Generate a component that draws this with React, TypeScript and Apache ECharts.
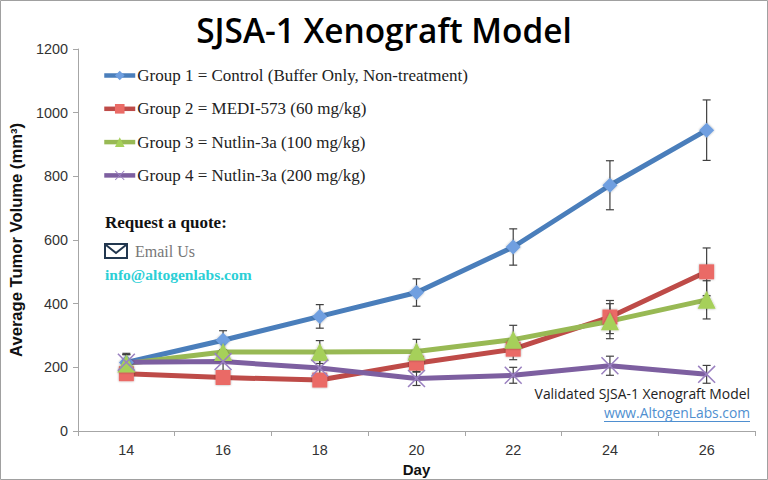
import React, { useEffect, useRef } from "react";
import * as echarts from "echarts";

const days = ["14", "16", "18", "20", "22", "24", "26"];
const names = [
  "Group 1 = Control (Buffer Only, Non-treatment)",
  "Group 2 = MEDI-573 (60 mg/kg)",
  "Group 3 = Nutlin-3a (100 mg/kg)",
  "Group 4 = Nutlin-3a (200 mg/kg)",
];
const group1 = [215, 285, 360, 435, 578, 772, 945];
const group2 = [180, 168, 160, 213, 257, 358, 500];
const group3 = [212, 248, 248, 250, 287, 345, 412];
const group4 = [216, 218, 198, 165, 175, 205, 178];
const err1 = [25, 30, 37, 43, 57, 77, 95];
const err2 = [18, 18, 18, 28, 33, 52, 75];
const err3 = [28, 32, 36, 38, 45, 55, 60];
const err4 = [28, 30, 30, 22, 25, 30, 28];
const lineColors = ["#4a7ebb", "#be4b48", "#98b954", "#7d5fa0"];
const fillColors = ["#6f9fe0", "#ea6b66", "#a6d05a", "#9a80c0"];
const xMark = "path://M0.6 0 L5 4.4 L9.4 0 L10 0.6 L5.6 5 L10 9.4 L9.4 10 L5 5.6 L0.6 10 L0 9.4 L4.4 5 L0 0.6 Z";
const symbols = ["diamond", "rect", "triangle", xMark];
const symbolSizes = [15, 15, 18, 18];
const values = [group1, group2, group3, group4];
const errors = [err1, err2, err3, err4];

export default function App() {
  const ref = useRef<HTMLDivElement>(null);
  useEffect(() => {
    const chart = echarts.init(ref.current!, undefined, { renderer: "svg" });
    const lines = names.map((name, i) => ({
      name,
      type: "line",
      z: 3,
      data: values[i],
      symbol: symbols[i],
      symbolSize: symbolSizes[i],
      showAllSymbol: true,
      lineStyle: { color: lineColors[i], width: 5 },
      itemStyle: {
        color: fillColors[i],
        borderWidth: 0,
        shadowBlur: i === 3 ? 0 : 2,
        shadowColor: "rgba(0,0,0,0.35)",
      },
    }));
    const bars = values.map((vals, i) => ({
      type: "custom",
      z: 2,
      silent: true,
      legendHoverLink: false,
      data: vals.map((v, j) => [j, v - errors[i][j], v + errors[i][j]]),
      encode: { x: 0, y: [1, 2] },
      renderItem: (_: any, api: any) => {
        const lo = api.coord([api.value(0), api.value(1)]);
        const hi = api.coord([api.value(0), api.value(2)]);
        const style = { stroke: "#404040", lineWidth: 1.2, fill: "none" };
        const cap = 4;
        return {
          type: "group",
          children: [
            { type: "line", shape: { x1: lo[0], y1: lo[1], x2: hi[0], y2: hi[1] }, style },
            { type: "line", shape: { x1: lo[0] - cap, y1: lo[1], x2: lo[0] + cap, y2: lo[1] }, style },
            { type: "line", shape: { x1: hi[0] - cap, y1: hi[1], x2: hi[0] + cap, y2: hi[1] }, style },
          ],
        };
      },
    }));
    chart.setOption({
      animation: false,
      backgroundColor: "#ffffff",
      title: {
        text: "SJSA-1 Xenograft Model",
        left: 379,
        top: 8,
        textAlign: "center",
        textStyle: { fontFamily: "Open Sans", fontSize: 33.4, fontWeight: 600, color: "#000" },
      },
      grid: { left: 78, right: 13, top: 49, bottom: 49, outerBoundsMode: "none" },
      legend: {
        orient: "vertical",
        left: 102,
        top: 67,
        padding: 0,
        itemGap: 16.3,
        itemWidth: 31,
        itemHeight: 12,
        data: names,
        lineStyle: { width: 4.5 },
        textStyle: { fontFamily: "Liberation Serif", fontSize: 17, color: "#222", padding: [0, 0, 0, -3] },
        selectedMode: false,
      },
      xAxis: {
        type: "category",
        data: days,
        name: "Day",
        nameLocation: "middle",
        nameGap: 29,
        nameTextStyle: { fontFamily: "Liberation Sans", fontSize: 15, fontWeight: 700, color: "#111" },
        axisLine: { lineStyle: { color: "#a6a6a6", width: 1 } },
        axisTick: { show: true, alignWithLabel: false, length: 5, lineStyle: { color: "#a6a6a6" } },
        axisLabel: { fontFamily: "Liberation Sans", fontSize: 14.4, color: "#333", margin: 12 },
        splitLine: { show: false },
      },
      yAxis: {
        type: "value",
        min: 0,
        max: 1200,
        interval: 200,
        name: "Average Tumor Volume (mm³)",
        nameLocation: "middle",
        nameGap: 46,
        nameTextStyle: { fontFamily: "Liberation Sans", fontSize: 16.6, fontWeight: 700, color: "#111" },
        axisLine: { show: true, lineStyle: { color: "#a6a6a6", width: 1 } },
        axisTick: { show: true, length: 5, lineStyle: { color: "#a6a6a6" } },
        axisLabel: { fontFamily: "Liberation Sans", fontSize: 14.4, color: "#333", margin: 10, formatter: (v: number) => String(v) },
        splitLine: { show: false },
      },
      graphic: [
        { type: "rect", shape: { x: 0.5, y: 0.5, width: 767, height: 479 }, style: { fill: "none", stroke: "#a0a0a0", lineWidth: 1 } },
        { type: "text", x: 105, y: 214, style: { text: "Request a quote:", fontFamily: "Liberation Serif", fontSize: 17, fontWeight: 700, fill: "#111" } },
        { type: "rect", shape: { x: 105, y: 244, width: 22, height: 14 }, style: { fill: "#fff", stroke: "#22374f", lineWidth: 2 } },
        { type: "polyline", shape: { points: [[106, 245], [116, 253], [126, 245]] }, style: { fill: "none", stroke: "#22374f", lineWidth: 2 } },
        { type: "text", x: 135, y: 243, style: { text: "Email Us", fontFamily: "Liberation Serif", fontSize: 16, fill: "#777" } },
        { type: "text", x: 105, y: 266, style: { text: "info@altogenlabs.com", fontFamily: "Liberation Serif", fontSize: 15.5, fontWeight: 700, fill: "#2bcfd6" } },
        { type: "text", x: 750, y: 386, style: { text: "Validated SJSA-1 Xenograft Model", align: "right", fontFamily: "Open Sans", fontSize: 13.9, fill: "#222" } },
        { type: "text", x: 750, y: 405, style: { text: "www.AltogenLabs.com", align: "right", fontFamily: "Open Sans", fontSize: 13.8, fill: "#4f8fd0" } },
        { type: "line", shape: { x1: 604, y1: 421.5, x2: 750, y2: 421.5 }, style: { stroke: "#4f8fd0", lineWidth: 1 } },
      ],
      series: [...bars, ...lines],
    });
    return () => chart.dispose();
  }, []);
  return <div ref={ref} style={{ position: "fixed", left: 0, top: 0, width: 768, height: 480 }} />;
}
